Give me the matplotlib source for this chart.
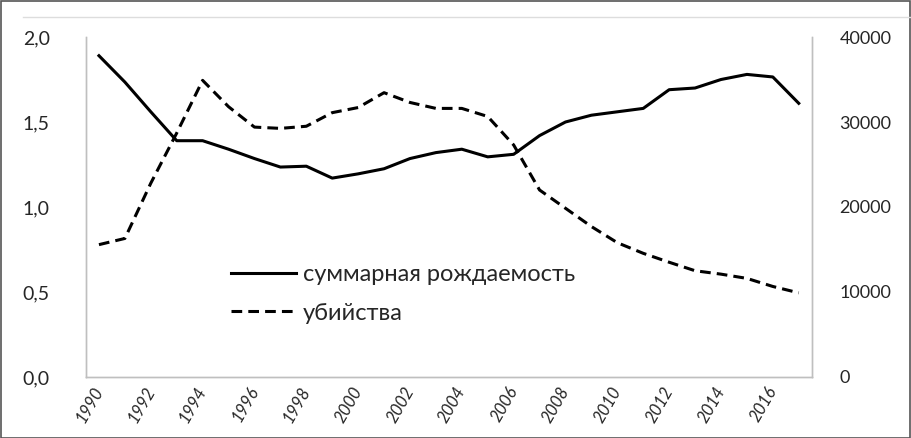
import matplotlib.pyplot as plt
from matplotlib.lines import Line2D
from matplotlib.patches import Rectangle

plt.rcParams['font.family'] = ['Lato', 'DejaVu Sans']

# data
years = list(range(1990, 2018))
fertility = [1.89, 1.735, 1.56, 1.39, 1.39, 1.34, 1.285, 1.235, 1.24, 1.17, 1.195,
             1.225, 1.285, 1.32, 1.34, 1.295, 1.31, 1.42, 1.50, 1.54, 1.56, 1.58,
             1.69, 1.70, 1.75, 1.78, 1.765, 1.61]
murders = [15570, 16300, 22800, 28700, 34900, 31800, 29400, 29250, 29500, 31100,
           31700, 33450, 32300, 31600, 31600, 30650, 27300, 22000, 19850, 17700,
           15800, 14550, 13500, 12500, 12100, 11600, 10650, 9900]
left_ticks = [0.0, 0.5, 1.0, 1.5, 2.0]
left_labels = ['0,0', '0,5', '1,0', '1,5', '2,0']
right_ticks = [0, 10000, 20000, 30000, 40000]
xtick_years = list(range(1990, 2017, 2))

label_fert = 'суммарная рождаемость'
label_murd = 'убийства'

fig = plt.figure(figsize=(9.11, 4.38), dpi=100)
ax = fig.add_axes([0.0944, 0.1393, 0.7966, 0.7762])
ax2 = ax.twinx()

l1, = ax.plot(years, fertility, color='black', lw=2.2, solid_joinstyle='round')
l2, = ax2.plot(years, murders, color='black', lw=2.2, linestyle=(0, (3.5, 2)))

ax.set_xlim(1989.5, 2017.5)
ax.set_ylim(0, 2.0)
ax2.set_ylim(0, 40000)

ax.set_yticks(left_ticks)
ax.set_yticklabels(left_labels)
ax2.set_yticks(right_ticks)
ax2.set_yticklabels([str(v) for v in right_ticks])
ax.set_xticks(xtick_years)
ax.set_xticklabels([str(y) for y in xtick_years], rotation=60, ha='right',
                   va='center', rotation_mode='anchor', fontsize=12, style='italic')

ax.tick_params(axis='y', length=0, pad=26, labelsize=14, labelcolor='#262626')
ax2.tick_params(axis='y', length=0, pad=20, labelsize=13, labelcolor='#262626')
ax.tick_params(axis='x', length=0, pad=8, labelcolor='#262626')

for a in (ax, ax2):
    a.spines['top'].set_visible(False)
    for s in ('left', 'right', 'bottom'):
        a.spines[s].set_color('#BFBFBF')
        a.spines[s].set_linewidth(1.0)

leg = ax.legend([l1, l2], [label_fert, label_murd], loc='upper left',
                bbox_to_anchor=(0.17, 0.395), frameon=False, fontsize=17,
                handlelength=2.75, handletextpad=0.3, labelspacing=0.75)
for t in leg.get_texts():
    t.set_color('#262626')

# outer border and thin top line like the source image
fig.patches.append(Rectangle((0.001, 0.001), 0.998, 0.997, transform=fig.transFigure,
                             fill=False, edgecolor='#555555', lw=1.2))
fig.lines.append(Line2D([0.025, 1.0], [0.962, 0.962], transform=fig.transFigure,
                        color='#DDDDDD', lw=1.0))

fig.savefig('out.png', dpi=100)
